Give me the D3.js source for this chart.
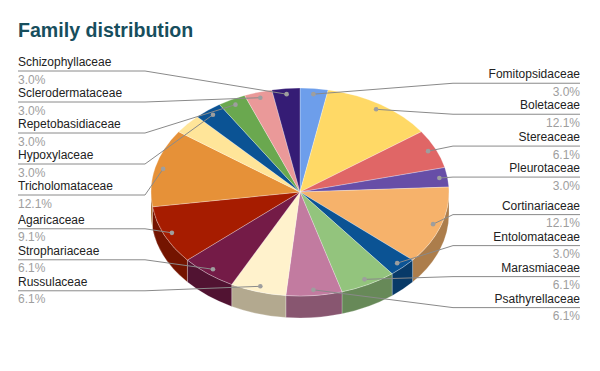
<!DOCTYPE html>
<html><head><meta charset="utf-8">
<script src="https://cdn.jsdelivr.net/npm/d3@7"></script>
<style>
body{margin:0;background:#fff}
svg{display:block;font-family:Arial,"Liberation Sans",sans-serif}
</style>
</head><body>
<svg id="c" width="600" height="371"></svg>
<script>
// ---- data (clockwise from 12 o'clock) ----
const categories = ["Fomitopsidaceae","Boletaceae","Stereaceae","Pleurotaceae","Cortinariaceae","Entolomataceae","Marasmiaceae","Psathyrellaceae","Russulaceae","Strophariaceae","Agaricaceae","Tricholomataceae","(unlabeled)","Hypoxylaceae","Repetobasidiaceae","Sclerodermataceae","Schizophyllaceae"];
const values = [1,4,2,1,4,1,2,2,2,2,3,4,1,1,1,1,1];
const labelShown = [true,true,true,true,true,true,true,true,true,true,true,true,false,true,true,true,true];
const colors = ["#6d9eeb","#ffd966","#e06666","#674ea7","#f6b26b","#0b5394","#93c47d","#c27ba0","#fff2cc","#741b47","#a61c00","#e69138","#ffe599","#0b5394","#6aa84f","#ea9999","#351c75"];
const title = "Family distribution";

// ---- geometry ----
const cx = 300, cy = 192, rx = 149, ry = 104, depth = 22, k = ry / rx;
const svg = d3.select("#c");

svg.append("text").attr("x", 18).attr("y", 37)
  .attr("font-size", 19.6).attr("font-weight", "bold").attr("fill", "#174e5d")
  .text(title);

const data = categories.map((c, i) => ({name: c, value: values[i], color: colors[i], show: labelShown[i]}));
const total = d3.sum(values);
const arcs = d3.pie().sort(null).value(d => d.value).startAngle(0).endAngle(2 * Math.PI)(data);

const g = svg.append("g").attr("transform", `translate(${cx},${cy}) scale(1,${k})`);
const D = depth / k;

// sides
arcs.forEach(a => {
  const s = Math.max(a.startAngle, Math.PI / 2), e = Math.min(a.endAngle, 3 * Math.PI / 2);
  if (e <= s) return;
  const p = d3.path();
  p.moveTo(rx * Math.sin(s), -rx * Math.cos(s));
  p.arc(0, 0, rx, s - Math.PI / 2, e - Math.PI / 2, false);
  p.lineTo(rx * Math.sin(e), -rx * Math.cos(e) + D);
  p.arc(0, D, rx, e - Math.PI / 2, s - Math.PI / 2, true);
  p.closePath();
  g.append("path").attr("d", p.toString())
    .attr("fill", d3.color(a.data.color).darker(1))
    .attr("stroke", "#fff").attr("stroke-opacity", 0.3).attr("stroke-width", 0.8)
    .attr("vector-effect", "non-scaling-stroke");
});

// top faces
const arcGen = d3.arc().innerRadius(0).outerRadius(rx);
g.selectAll("path.top").data(arcs).join("path").attr("class", "top")
  .attr("d", arcGen).attr("fill", d => d.data.color)
  .attr("stroke", "#fff").attr("stroke-opacity", 0.35).attr("stroke-width", 0.8)
  .attr("vector-effect", "non-scaling-stroke");

// ---- labels ----
const gap = 31, minY = 71, maxY = 345, dotR = 0.945;
const items = arcs.filter(a => a.data.show).map(a => {
  const m = (a.startAngle + a.endAngle) / 2;
  const dx = cx + rx * dotR * Math.sin(m), dy = cy - ry * dotR * Math.cos(m);
  return {a, m, dx, dy, desired: dy - 3, right: m < Math.PI};
});

function layout(list) {
  list.sort((p, q) => p.desired - q.desired);
  let clusters = list.map(it => ({items: [it], sum: it.desired}));
  const top = c => {
    const n = c.items.length;
    let t = c.sum / n - gap * (n - 1) / 2;
    return Math.max(minY, Math.min(t, maxY - gap * (n - 1)));
  };
  let changed = true;
  while (changed) {
    changed = false;
    for (let i = 0; i < clusters.length - 1; i++) {
      const A = clusters[i], B = clusters[i + 1];
      if (top(A) + gap * A.items.length > top(B)) {
        clusters.splice(i, 2, {items: A.items.concat(B.items), sum: A.sum + B.sum});
        changed = true; break;
      }
    }
  }
  clusters.forEach(c => { const t = top(c); c.items.forEach((it, i) => it.y = t + i * gap); });
}
layout(items.filter(d => d.right));
layout(items.filter(d => !d.right));

const lg = svg.append("g");
items.forEach(it => {
  const bendX = it.right ? 453 : 145, endX = it.right ? 580 : 18;
  lg.append("polyline")
    .attr("points", `${it.dx},${it.dy} ${bendX},${it.y} ${endX},${it.y}`)
    .attr("fill", "none").attr("stroke", "#8a8a8a").attr("stroke-width", 1);
  lg.append("circle").attr("cx", it.dx).attr("cy", it.dy).attr("r", 2.3).attr("fill", "#9e9e9e");
  lg.append("text").attr("x", endX).attr("y", it.y - 5)
    .attr("text-anchor", it.right ? "end" : "start")
    .attr("font-size", 12).attr("fill", "#222").text(it.a.data.name);
  lg.append("text").attr("x", endX).attr("y", it.y + 12.5)
    .attr("text-anchor", it.right ? "end" : "start")
    .attr("font-size", 12).attr("fill", "#9e9e9e")
    .text((it.a.data.value / total * 100).toFixed(1) + "%");
});
</script>
</body></html>
